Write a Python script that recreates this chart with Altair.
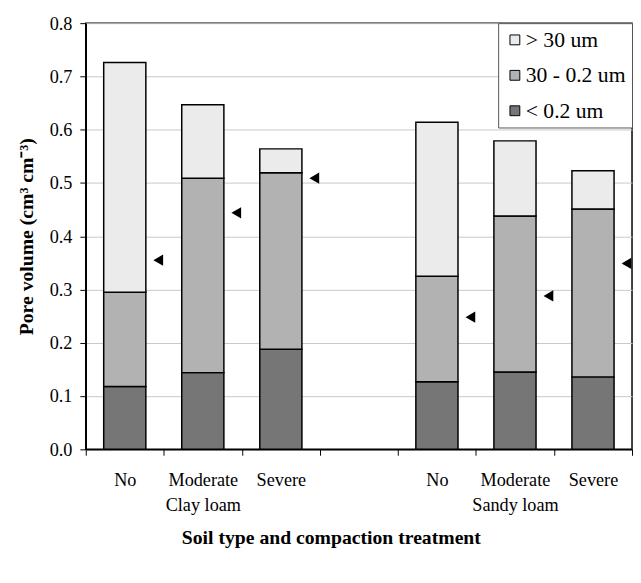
import altair as alt
import pandas as pd

# ---- data ----
soil = ["Clay loam", "Clay loam", "Clay loam", "Sandy loam", "Sandy loam", "Sandy loam"]
treatment = ["No", "Moderate", "Severe", "No", "Moderate", "Severe"]
pore_fine = [0.118, 0.144, 0.188, 0.127, 0.145, 0.136]      # < 0.2 um
pore_medium = [0.177, 0.365, 0.331, 0.198, 0.293, 0.315]    # 30 - 0.2 um
pore_coarse = [0.431, 0.138, 0.045, 0.289, 0.141, 0.072]    # > 30 um
marker = [0.355, 0.444, 0.509, 0.248, 0.288, 0.349]         # black triangles
classes = ["> 30 um", "30 - 0.2 um", "< 0.2 um"]
class_colors = ["#ebebeb", "#b2b2b2", "#767676"]
y_ticks = [0.0, 0.05, 0.1, 0.15, 0.2, 0.25, 0.3, 0.35, 0.4, 0.45,
           0.5, 0.55, 0.6, 0.65, 0.7, 0.75, 0.8]

keys = [f"{s}|{t}" for s, t in zip(soil, treatment)]
x_domain = keys[:3] + [" "] + keys[3:]

rows = []
for k, f, m, c in zip(keys, pore_fine, pore_medium, pore_coarse):
    rows.append({"key": k, "cls": classes[2], "rank": 0, "value": f})
    rows.append({"key": k, "cls": classes[1], "rank": 1, "value": m})
    rows.append({"key": k, "cls": classes[0], "rank": 2, "value": c})
bars_df = pd.DataFrame(rows)
mark_df = pd.DataFrame({"key": keys, "marker": marker})

FONT = "Liberation Serif, Times New Roman, Times, serif"

label_expr = (
    "datum.value == ' ' ? '' : "
    "(split(datum.value, '|')[1] == 'Moderate' ? "
    "[split(datum.value, '|')[1], split(datum.value, '|')[0]] : split(datum.value, '|')[1])"
)

x_enc = alt.X(
    "key:N",
    scale=alt.Scale(domain=x_domain, paddingInner=0, paddingOuter=0),
    sort=x_domain,
    axis=alt.Axis(
        title="Soil type and compaction treatment",
        labelExpr=label_expr,
        labelAngle=0,
        labelFont=FONT,
        labelFontSize=18.5,
        labelColor="black",
        labelPadding=16,
        labelLineHeight=25,
        labelOverlap=False,
        labelBound=False,
        tickBand="extent",
        ticks=True,
        tickSize=6,
        tickColor="black",
        domainColor="black",
        domainWidth=1.5,
        grid=False,
        titleFont=FONT,
        titleFontSize=20,
        titleFontWeight="bold",
        titleColor="black",
        titleX=249,
        titleY=96,
        titleBaseline="alphabetic",
        titleAlign="center",
    ),
)

bars = alt.Chart(bars_df).mark_bar(
    stroke="black", strokeWidth=1.5, width=alt.RelativeBandSize(0.54)
).encode(
    x=x_enc,
    y=alt.Y(
        "value:Q",
        stack="zero",
        scale=alt.Scale(domain=[0, 0.8], nice=False),
        axis=alt.Axis(
            values=y_ticks,
            labelExpr="round(datum.value * 20) % 2 == 0 ? format(datum.value, '.1f') : ''",
            title="Pore volume (cm³ cm⁻³)",
            titleFont=FONT,
            titleFontSize=20,
            titleFontWeight="bold",
            titleColor="black",
            titlePadding=13,
            labelFont=FONT,
            labelFontSize=18.5,
            labelColor="black",
            labelPadding=8,
            tickSize=6,
            tickColor="black",
            domainColor="black",
            domainWidth=1.5,
            grid=True,
            gridColor="#c8c8c8",
            gridWidth=1,
            gridOpacity={"condition": {"test": "round(datum.value * 20) % 2 == 1", "value": 0}, "value": 1},
        ),
    ),
    color=alt.Color(
        "cls:N",
        scale=alt.Scale(domain=classes, range=class_colors),
        legend=alt.Legend(
            title=None,
            orient="top-right",
            offset=0,
            symbolType="square",
            symbolSize=100,
            symbolStrokeColor="black",
            symbolStrokeWidth=1,
            symbolOpacity=1,
            labelFont=FONT,
            labelFontSize=22,
            labelColor="black",
            labelOffset=0,
            rowPadding=14,
            padding=6,
            strokeColor="#555555",
            fillColor="white",
        ),
    ),
    order=alt.Order("rank:Q"),
)

arrows = alt.Chart(mark_df).mark_point(
    shape="triangle-left", filled=True, color="black", size=130, xOffset=34, opacity=1
).encode(
    x=alt.X("key:N", scale=alt.Scale(domain=x_domain), sort=x_domain),
    y=alt.Y("marker:Q"),
)

chart = alt.layer(bars, arrows).properties(
    width=555,
    height=433,
    padding={"left": 8, "top": 2, "right": 0, "bottom": 5},
    background="white",
).configure_view(
    stroke="black", strokeWidth=1.5
)

chart.save("out.html", embed_options={"renderer": "svg", "actions": False})
